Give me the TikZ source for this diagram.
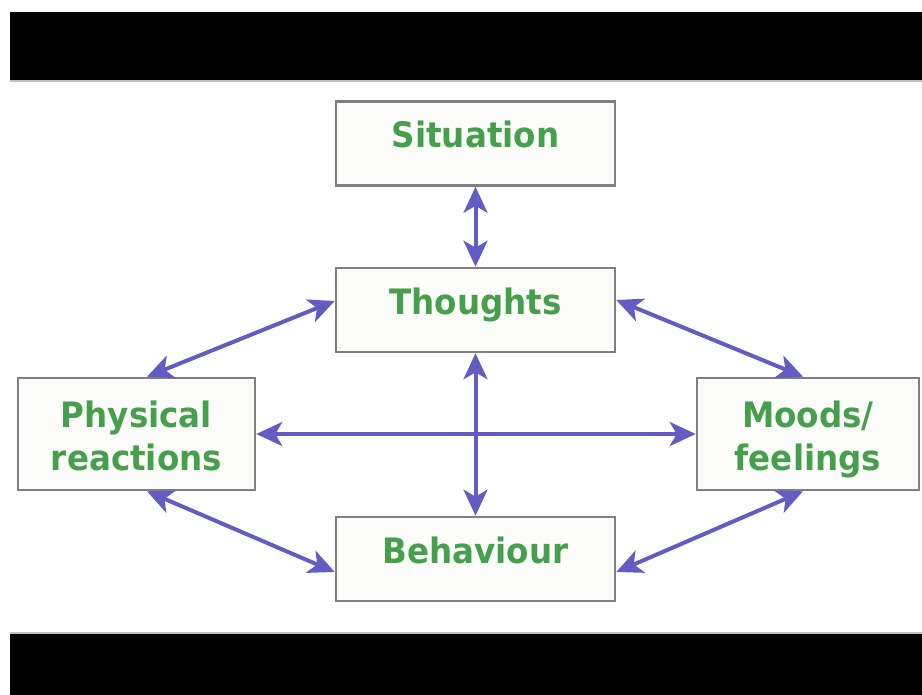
\documentclass[tikz,border=0pt]{standalone}
\usepackage{fontspec}
\newfontfamily\labelfont{DejaVu Sans}[FakeStretch=0.93]
\usetikzlibrary{arrows.meta}
\definecolor{boxgray}{RGB}{128,128,128}
\definecolor{boxfill}{RGB}{252,253,251}
\definecolor{labgreen}{RGB}{70,160,75}
\definecolor{arrblue}{RGB}{98,92,195}
\tikzset{
  stagebox/.style={draw=boxgray, line width=2.6pt, fill=boxfill, inner sep=0pt,
    font=\labelfont\bfseries\fontsize{35}{43}\selectfont, text=labgreen, align=center},
  onebox/.style={stagebox, minimum width=279pt, minimum height=84pt, text height=25pt, text depth=16pt},
  twobox/.style={stagebox, minimum height=112pt, text height=72pt, text depth=0pt},
  link/.style={draw=arrblue, line width=4pt,
    {Stealth[length=26pt,width=24pt,inset=7pt]}-{Stealth[length=26pt,width=24pt,inset=7pt]}},
  bar/.style={fill=black, draw=none}
}
\begin{document}
\begin{tikzpicture}[x=1pt,y=-1pt]
\useasboundingbox (0,0) rectangle (922,695);
\fill[white] (0,0) rectangle (922,695);
\path[bar] (10,12) rectangle (922,80);
\path[bar] (10,634) rectangle (922,695);
\draw[gray!50, line width=1.5pt] (10,81) -- (922,81);
\draw[gray!50, line width=1.5pt] (10,633) -- (922,633);

\node[onebox] (sit) at (475.5,143.5) {Situation};
\node[onebox] (tho) at (475.5,310) {Thoughts};
\node[onebox] (beh) at (475.5,559) {Behaviour};
\node[twobox, minimum width=237pt] (phys) at (136.5,434) {Physical\\reactions};
\node[twobox, minimum width=222pt] (mood) at (808,434) {Moods/\\feelings};

\draw[link] (sit.south) -- (tho.north);
\draw[link] (tho.south) -- (beh.north);
\draw[link] (phys.east) -- (mood.west);
\draw[link] ([yshift=9pt]tho.west) -- ([xshift=10.5pt]phys.north);
\draw[link] ([yshift=10pt]tho.east) -- ([xshift=-5pt]mood.north);
\draw[link] ([xshift=10.5pt]phys.south) -- ([yshift=-13pt]beh.west);
\draw[link] ([yshift=-13pt]beh.east) -- ([xshift=-5pt]mood.south);
\end{tikzpicture}
\end{document}
